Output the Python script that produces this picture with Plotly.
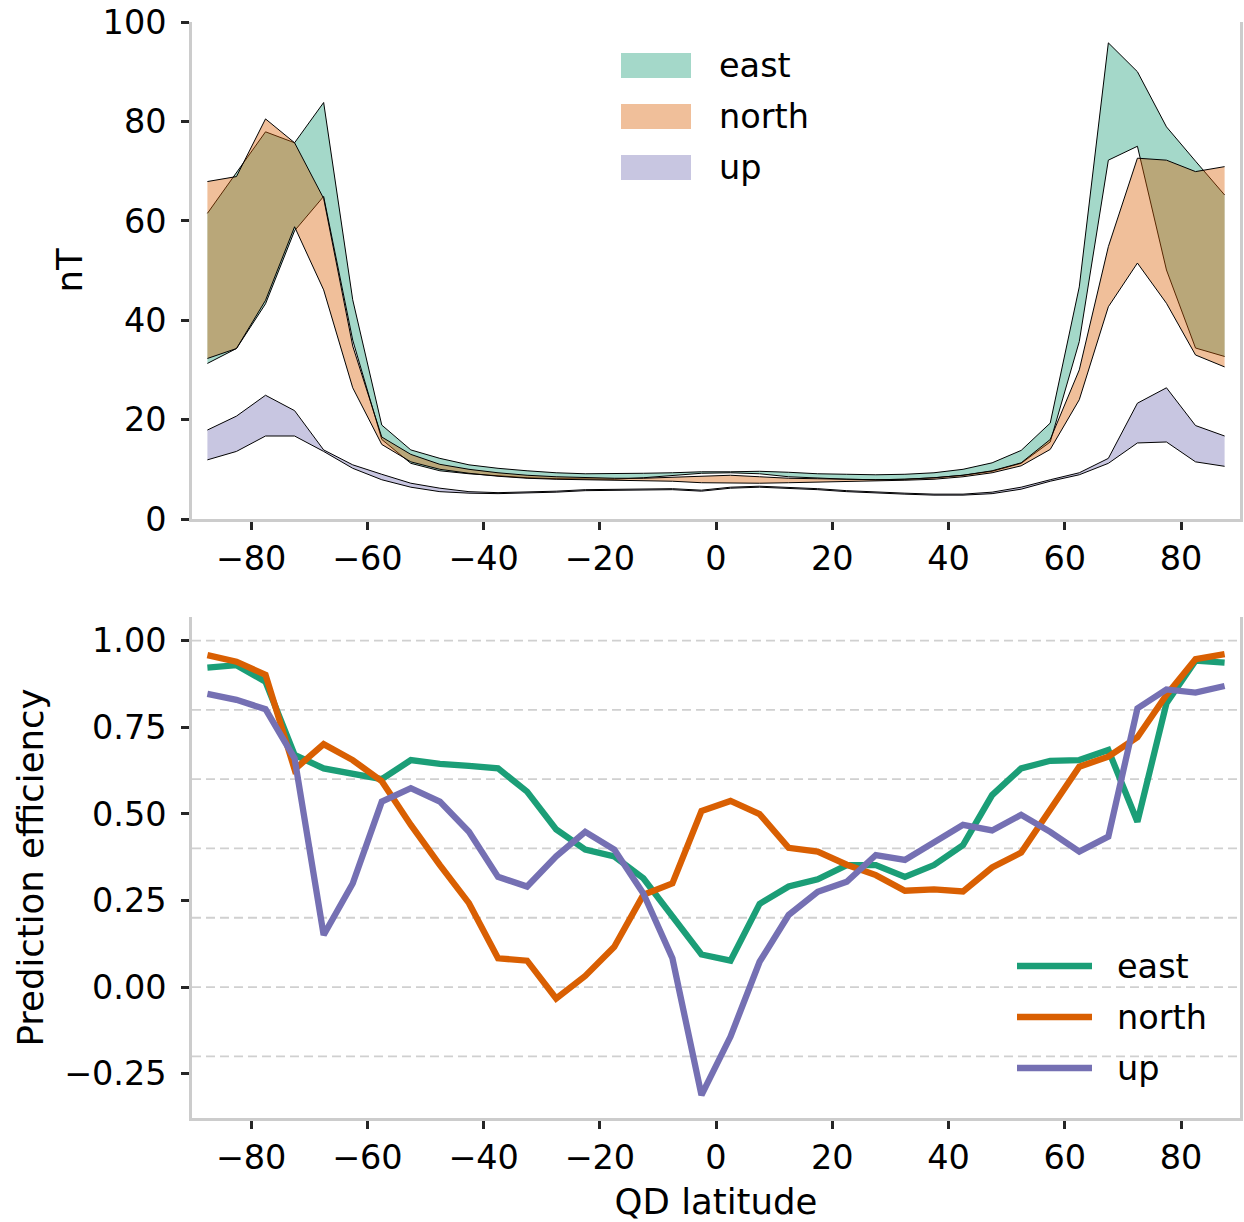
import plotly.graph_objects as go

# Latitude bin centres (QD latitude, degrees)
lat = [-87.5, -82.5, -77.5, -72.5, -67.5, -62.5, -57.5, -52.5, -47.5, -42.5,
       -37.5, -32.5, -27.5, -22.5, -17.5, -12.5, -7.5, -2.5, 2.5, 7.5,
       12.5, 17.5, 22.5, 27.5, 32.5, 37.5, 42.5, 47.5, 52.5, 57.5,
       62.5, 67.5, 72.5, 77.5, 82.5, 87.5]

# RMS magnitude per component (nT): observed and modelled
east_obs = [61.5, 69.6, 77.9, 75.7, 83.8, 44.1, 18.9, 13.9, 12.2, 10.9,
            10.2, 9.7, 9.3, 9.1, 9.1, 9.2, 9.3, 9.5, 9.5, 9.6,
            9.4, 9.1, 9.0, 8.9, 9.0, 9.3, 10.0, 11.3, 13.8, 19.3,
            46.7, 95.8, 90.0, 78.9, 72.0, 65.2]
east_mod = [31.3, 34.3, 43.3, 58.0, 64.9, 36.0, 16.0, 11.2, 9.7, 9.1,
            8.7, 8.3, 8.1, 8.0, 8.0, 8.3, 8.8, 9.2, 9.3, 9.1,
            8.5, 8.2, 8.0, 7.9, 8.0, 8.3, 8.8, 9.6, 11.2, 15.5,
            35.7, 72.2, 75.0, 50.1, 34.4, 32.7]
north_obs = [67.9, 68.9, 80.5, 75.7, 64.5, 34.8, 16.5, 13.0, 11.0, 10.0,
             9.3, 8.8, 8.5, 8.3, 8.2, 8.2, 8.4, 8.7, 8.8, 8.5,
             8.2, 8.1, 8.0, 7.9, 8.0, 8.3, 8.8, 9.7, 11.3, 16.0,
             30.0, 54.8, 72.6, 72.2, 69.9, 70.9]
north_mod = [32.3, 34.3, 44.0, 58.8, 46.1, 26.4, 15.0, 11.5, 10.0, 9.2,
             8.6, 8.2, 8.0, 7.9, 7.9, 7.8, 7.6, 7.3, 7.2, 7.2,
             7.3, 7.4, 7.5, 7.6, 7.8, 8.0, 8.5, 9.3, 10.7, 14.0,
             24.0, 42.7, 51.5, 43.4, 33.0, 30.6]
up_obs = [17.9, 20.7, 24.9, 21.8, 13.9, 10.9, 9.0, 7.2, 6.2, 5.5,
          5.3, 5.4, 5.6, 5.9, 6.0, 6.0, 6.1, 5.8, 6.4, 6.6,
          6.4, 6.1, 5.7, 5.4, 5.2, 5.0, 5.0, 5.4, 6.4, 7.9,
          9.3, 12.2, 23.3, 26.4, 18.8, 16.7]
up_mod = [11.9, 13.6, 16.7, 16.7, 13.6, 10.2, 7.9, 6.4, 5.5, 5.2,
          5.1, 5.2, 5.4, 5.7, 5.8, 5.8, 5.9, 5.6, 6.2, 6.4,
          6.2, 5.9, 5.5, 5.2, 5.0, 4.8, 4.8, 5.1, 6.0, 7.6,
          8.9, 11.2, 15.3, 15.5, 11.5, 10.6]

# Prediction efficiency per component
pe_east = [0.922, 0.929, 0.881, 0.670, 0.631, 0.617, 0.600, 0.655, 0.644, 0.638,
           0.631, 0.564, 0.455, 0.397, 0.377, 0.314, 0.206, 0.094, 0.076, 0.240,
           0.290, 0.311, 0.352, 0.352, 0.318, 0.352, 0.410, 0.554, 0.631, 0.653,
           0.655, 0.684, 0.477, 0.819, 0.942, 0.936]
pe_north = [0.958, 0.939, 0.901, 0.628, 0.701, 0.655, 0.594, 0.468, 0.352, 0.242,
            0.083, 0.076, -0.033, 0.032, 0.116, 0.266, 0.299, 0.508, 0.537, 0.499,
            0.402, 0.391, 0.353, 0.323, 0.278, 0.282, 0.276, 0.345, 0.388, 0.511,
            0.636, 0.665, 0.721, 0.843, 0.946, 0.961]
pe_up = [0.846, 0.829, 0.802, 0.660, 0.150, 0.299, 0.535, 0.574, 0.535, 0.448,
         0.318, 0.290, 0.377, 0.448, 0.397, 0.270, 0.083, -0.312, -0.143, 0.073,
         0.208, 0.275, 0.304, 0.381, 0.367, 0.420, 0.468, 0.452, 0.497, 0.448,
         0.391, 0.434, 0.804, 0.859, 0.850, 0.869]

components = ["east", "north", "up"]
colors = ["#1b9e77", "#d95f02", "#7570b3"]
fills = ["rgba(27,158,119,0.4)", "rgba(217,95,2,0.4)", "rgba(117,112,179,0.4)"]

x_ticks = [-80, -60, -40, -20, 0, 20, 40, 60, 80]
x_ticktext = ["\u221280", "\u221260", "\u221240", "\u221220", "0", "20", "40", "60", "80"]
nt_ticks = [0, 20, 40, 60, 80, 100]
pe_ticks = [-0.25, 0.0, 0.25, 0.5, 0.75, 1.0]
pe_ticktext = ["\u22120.25", "0.00", "0.25", "0.50", "0.75", "1.00"]
pe_grid = [-0.2, 0.0, 0.2, 0.4, 0.6, 0.8, 1.0]

W, H = 1244, 1222
FONT = "DejaVu Sans"
TXT = "#262626"
SPINE = "#cccccc"
TICK_SIZE = 33.5
LABEL_SIZE = 35.5
LW = 6.3


def px(xp):
    return xp / W


def py(yp):
    return 1 - yp / H


fig = go.Figure()

# Top panel: band between observed and modelled RMS for each component
for name, col, obs, mod in zip(components, fills,
                               [east_obs, north_obs, up_obs],
                               [east_mod, north_mod, up_mod]):
    fig.add_trace(go.Scatter(x=lat, y=mod, mode="lines",
                             line=dict(color="black", width=1),
                             showlegend=False, hoverinfo="skip",
                             xaxis="x", yaxis="y"))
    fig.add_trace(go.Scatter(x=lat, y=obs, mode="lines", fill="tonexty",
                             fillcolor=col, line=dict(color="black", width=1),
                             name=name, showlegend=False,
                             xaxis="x", yaxis="y"))

# Bottom panel: prediction efficiency
for name, col, pe in zip(components, colors, [pe_east, pe_north, pe_up]):
    fig.add_trace(go.Scatter(x=lat, y=pe, mode="lines",
                             line=dict(color=col, width=LW),
                             name=name, showlegend=False,
                             xaxis="x2", yaxis="y2"))

shapes = []
annotations = []

# dashed horizontal reference lines in the efficiency panel
for g in pe_grid:
    shapes.append(dict(type="line", xref="x2 domain", x0=0, x1=1,
                       yref="y2", y0=g, y1=g, layer="below",
                       line=dict(color="#d0d0d0", width=1.8, dash="9px,5px")))

# legend for the RMS bands
for i, (name, col) in enumerate(zip(components, fills)):
    yc = 65.5 + 51 * i
    shapes.append(dict(type="rect", xref="paper", yref="paper",
                       x0=px(621), x1=px(691), y0=py(yc + 12.5), y1=py(yc - 12.5),
                       fillcolor=col, line=dict(width=0)))
    annotations.append(dict(text=name, xref="paper", yref="paper",
                            x=px(717), y=py(yc), xanchor="left", yanchor="middle",
                            showarrow=False,
                            font=dict(family=FONT, size=TICK_SIZE, color="black")))

# legend for the efficiency curves
for i, (name, col) in enumerate(zip(components, colors)):
    yc = 966 + 51 * i
    shapes.append(dict(type="line", xref="paper", yref="paper",
                       x0=px(1017), x1=px(1092), y0=py(yc), y1=py(yc),
                       line=dict(color=col, width=LW)))
    annotations.append(dict(text=name, xref="paper", yref="paper",
                            x=px(1115), y=py(yc), xanchor="left", yanchor="middle",
                            showarrow=False,
                            font=dict(family=FONT, size=TICK_SIZE, color="black")))

axis_common = dict(
    ticks="outside", ticklen=8, tickwidth=2.5, tickcolor=TXT,
    showline=True, linecolor=SPINE, linewidth=2.5,
    showgrid=False, zeroline=False, automargin=False,
    tickfont=dict(family=FONT, size=TICK_SIZE, color="black"),
)

x_dom = [px(192), px(1240)]

fig.update_layout(
    width=W, height=H,
    margin=dict(l=0, r=0, t=0, b=0, autoexpand=False),
    paper_bgcolor="white", plot_bgcolor="white",
    font=dict(family=FONT, color="black"),
    xaxis=dict(domain=x_dom, anchor="y", range=[-90.15, 90.15],
               tickmode="array", tickvals=x_ticks, ticktext=x_ticktext,
               ticklabelstandoff=0, **axis_common),
    yaxis=dict(domain=[py(519), py(22)], anchor="x", range=[0, 100],
               tickmode="array", tickvals=nt_ticks, mirror=True,
               ticklabelstandoff=8,
               title=dict(text="nT", standoff=10,
                          font=dict(family=FONT, size=LABEL_SIZE, color="black")),
               **axis_common),
    xaxis2=dict(domain=x_dom, anchor="y2", range=[-90.15, 90.15],
                tickmode="array", tickvals=x_ticks, ticktext=x_ticktext,
                ticklabelstandoff=0,
                title=dict(text="QD latitude", standoff=16,
                           font=dict(family=FONT, size=LABEL_SIZE, color="black")),
                **axis_common),
    yaxis2=dict(domain=[py(1118), py(617)], anchor="x2", range=[-0.378, 1.068],
                tickmode="array", tickvals=pe_ticks, ticktext=pe_ticktext,
                mirror=True, ticklabelstandoff=8,
                title=dict(text="Prediction efficiency", standoff=10,
                           font=dict(family=FONT, size=LABEL_SIZE, color="black")),
                **axis_common),
    shapes=shapes,
    annotations=annotations,
)

fig.write_html("out.html")
